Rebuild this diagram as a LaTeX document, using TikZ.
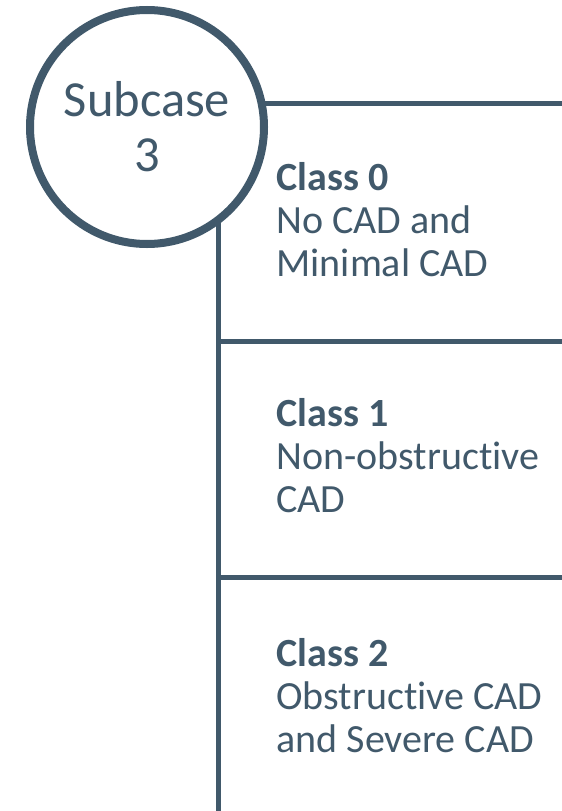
\documentclass[tikz,border=0pt]{standalone}
\usepackage{fontspec}
\setmainfont[Ligatures=NoCommon]{Carlito}
\usepackage{xcolor}
\usetikzlibrary{positioning, calc, shadows}
\definecolor{slategrey}{HTML}{41596B}

\begin{document}
\begin{tikzpicture}[x=1pt, y=-1pt, line width=5pt, draw=slategrey, text=slategrey,
	classtext/.style={anchor=base west, inner sep=0pt, align=left, font=\fontsize{40}{43}\selectfont}]
		\useasboundingbox (0,0) rectangle (562,811);
		\pgfmathsetmacro{\trunkx}{218}
		\pgfmathsetmacro{\rowa}{103}
		\pgfmathsetmacro{\rowb}{341}
		\pgfmathsetmacro{\rowc}{577}
		
		\coordinate (top) at (\trunkx,180);
		\coordinate (bottom) at (\trunkx,811);
		\coordinate (rowa) at (562,\rowa);
		\coordinate (rowb) at (562,\rowb);
		\coordinate (rowc) at (562,\rowc);
		
		\draw (top) -- (bottom);
		\draw (\trunkx,\rowb) -- (rowb);
		\draw (\trunkx,\rowc) -- (rowc);
		\draw (\trunkx,\rowa) -- (rowa);
		
		\node[circle, draw, fill=white, line width=8pt, minimum size=234pt, inner sep=0pt,
			drop shadow={opacity=0.18, shadow xshift=2pt, shadow yshift=-3pt},
			align=center, font=\fontsize{50.5}{55}\selectfont] (sub) at (147,127) {Subcase\\3};
		
		% base anchor sits on the last line
		\node[classtext] (c0) at (274,276) {\textbf{Class 0}\\No CAD and\\Minimal CAD};
		\node[classtext] (c1) at (274,512) {\textbf{Class 1}\\Non-obstructive\\CAD};
		\node[classtext] (c2) at (274,752) {\textbf{Class 2}\\Obstructive CAD\\and Severe CAD};
		\end{tikzpicture}
\end{document}
